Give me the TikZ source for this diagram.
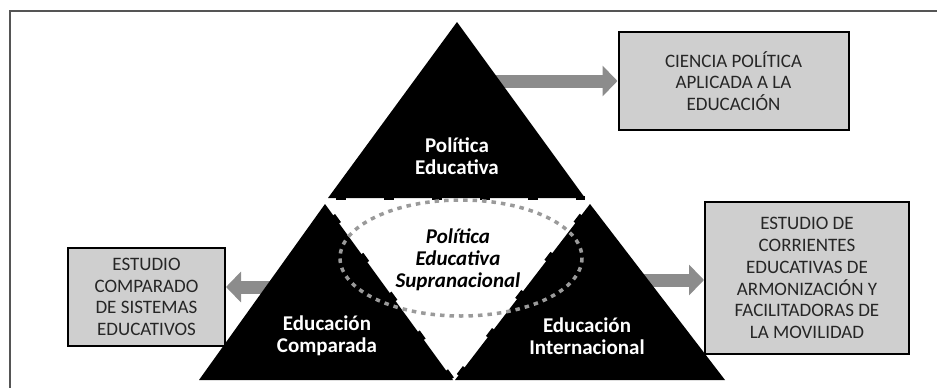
\documentclass[tikz,border=0pt]{standalone}
\usepackage{fontspec}
\setmainfont{Carlito}
\usepackage{tikz}
\usetikzlibrary{arrows.meta,positioning}
\definecolor{boxGray}{HTML}{CFCFCF}
\definecolor{arrowGray}{HTML}{8C8C8C}
\definecolor{dotGray}{HTML}{9A9A9A}
\definecolor{frameGray}{HTML}{555555}
\tikzset {
	sector/.style={fill=black},
	sectorLabel/.style={text=white, align=center, font=\fontsize{21}{22}\selectfont\bfseries},
	centerLabel/.style={text=black, align=center, font=\fontsize{21}{22}\selectfont\bfseries\itshape},
	outcome/.style={rectangle, draw=black, line width=2pt, fill=boxGray, align=center, inner sep=0pt,
					text=black!85, font=\fontsize{19}{21.8}\selectfont},
	flow/.style={arrowGray, line width=13pt, -{Triangle[length=15pt,width=30pt]}},
	seam/.style={black, line width=4.5pt, dash pattern=on 10pt off 38pt},
	overlap/.style={dotGray, line width=3.5pt, dash pattern=on 4.5pt off 5pt}
}

\begin{document}
\begin{tikzpicture}[x=1pt, y=-1pt]
	\useasboundingbox (0,0) rectangle (937,388);
	\draw[frameGray, line width=1.5pt] (10,388) -- (10,11) -- (937,11);

	% vertices of the three sectors
	\coordinate (peTop) at (457,22);
	\coordinate (peLeft) at (328,198);
	\coordinate (peRight) at (585,198);
	\coordinate (ecTop) at (325,204);
	\coordinate (ecLeft) at (199,380);
	\coordinate (ecRight) at (453,380);
	\coordinate (eiTop) at (590,204);
	\coordinate (eiLeft) at (455,380);
	\coordinate (eiRight) at (725,380);

	% outcome boxes
	\node[outcome, minimum width=230pt, minimum height=98pt] (ciencia) at (733.5,81)
		{CIENCIA POLÍTICA\\APLICADA A LA\\EDUCACIÓN};
	\node[outcome, minimum width=157pt, minimum height=98pt] (estudioComp) at (146.5,297)
		{ESTUDIO\\COMPARADO\\DE SISTEMAS\\EDUCATIVOS};
	\node[outcome, minimum width=204pt, minimum height=152pt] (estudioCorr) at (807,278)
		{ESTUDIO DE\\CORRIENTES\\EDUCATIVAS DE\\ARMONIZACIÓN Y\\FACILITADORAS DE\\LA MOVILIDAD};

	% arrows start behind the sectors
	\coordinate (peOut) at (480,81);
	\coordinate (ecOut) at (290,287);
	\coordinate (eiOut) at (620,280);
	\draw[flow] (peOut) -- (peOut -| ciencia.west);
	\draw[flow] (ecOut) -- (ecOut -| estudioComp.east);
	\draw[flow] (eiOut) -- (eiOut -| estudioCorr.west);

	\fill[sector] (peTop) -- (peLeft) -- (peRight) -- cycle;
	\fill[sector] (ecTop) -- (ecLeft) -- (ecRight) -- cycle;
	\fill[sector] (eiTop) -- (eiLeft) -- (eiRight) -- cycle;

	% jagged seams round the white centre
	\draw[seam, dash phase=-8pt] (peLeft) -- (peRight);
	\draw[seam, dash phase=-14pt] (ecTop) -- (ecRight);
	\draw[seam, dash phase=-14pt] (eiTop) -- (eiLeft);

	\draw[overlap] (461,258) ellipse [x radius=121, y radius=58];

	\node[sectorLabel] (politica) at (457,156) {Política\\Educativa};
	\node[sectorLabel] (comparada) at (327,336) {Educación\\Comparada};
	\node[sectorLabel] (internacional) at (587,336) {Educación\\Internacional};
	\node[centerLabel] (supra) at (458,260) {Política\\Educativa\\Supranacional};
\end{tikzpicture}
\end{document}
